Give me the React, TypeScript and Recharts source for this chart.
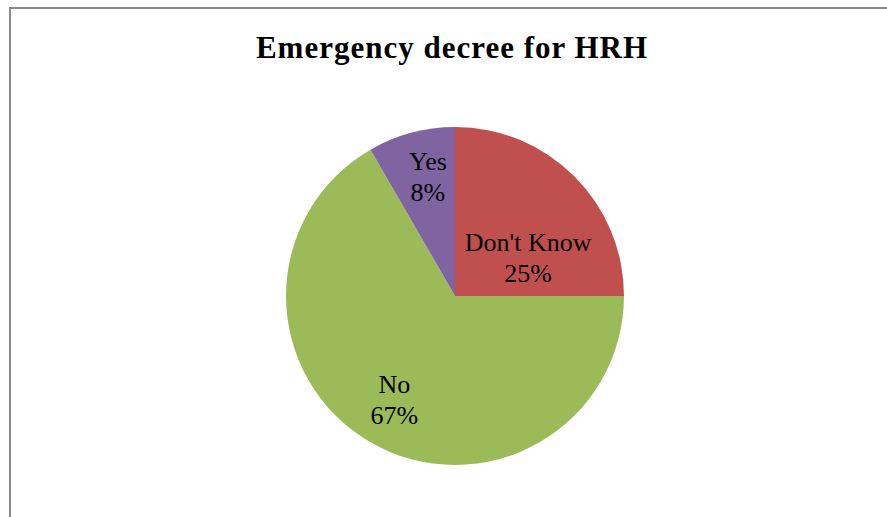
import React from "react";
import { PieChart, Pie, Cell } from "recharts";

const categories = ["Don't Know", "No", "Yes"];
const values = [3, 8, 1];
const percentLabels = ["25%", "67%", "8%"];
const colors = ["#C0504D", "#9BBB59", "#8064A2"];

const data = categories.map((name, i) => ({ name, value: values[i], pct: percentLabels[i] }));

// label placement tweaks (fraction of radius, angle shift in degrees)
const labelLayout: Record<string, { r: number; shift: number }> = {
  "Don't Know": { r: 0.49, shift: -17 },
  No: { r: 0.71, shift: -0.4 },
  Yes: { r: 0.73, shift: -2.3 },
};

const RAD = Math.PI / 180;

const renderLabel = (props: any) => {
  const { cx, cy, midAngle, outerRadius, index } = props;
  const d = data[index];
  const lay = labelLayout[d.name];
  const a = (midAngle + lay.shift) * RAD;
  const x = cx + outerRadius * lay.r * Math.cos(a);
  const y = cy - outerRadius * lay.r * Math.sin(a);
  return (
    <text
      x={x}
      y={y}
      textAnchor="middle"
      fill="#000"
      fontFamily="'Liberation Serif', serif"
      fontSize={26}
    >
      <tspan x={x} y={y - 6}>{d.name}</tspan>
      <tspan x={x} y={y + 25}>{d.pct}</tspan>
    </text>
  );
};

export default function App() {
  return (
    <div style={{ position: "absolute", left: 0, top: 0, width: 887, height: 517, overflow: "hidden", background: "#fff" }}>
      <div
        style={{
          position: "absolute",
          left: 9,
          top: 7,
          width: 900,
          height: 600,
          border: "2px solid #8a8a8a",
          boxSizing: "border-box",
        }}
      />
      <svg style={{ position: "absolute", left: 0, top: 0 }} width={887} height={100}>
        <text
          x={452}
          y={58}
          textAnchor="middle"
          fontFamily="'Liberation Serif', serif"
          fontWeight="bold"
          fontSize={31}
          letterSpacing={1}
          fill="#000"
        >
          Emergency decree for HRH
        </text>
      </svg>
      <div style={{ position: "absolute", left: 0, top: 0 }}>
        <PieChart width={887} height={517} margin={{ top: 0, right: 0, bottom: 0, left: 0 }}>
          <Pie
            data={data}
            dataKey="value"
            nameKey="name"
            cx={455}
            cy={296}
            outerRadius={169}
            startAngle={90}
            endAngle={-270}
            stroke="none"
            label={renderLabel}
            labelLine={false}
            isAnimationActive={false}
          >
            {data.map((d, i) => (
              <Cell key={d.name} fill={colors[i]} />
            ))}
          </Pie>
        </PieChart>
      </div>
    </div>
  );
}
